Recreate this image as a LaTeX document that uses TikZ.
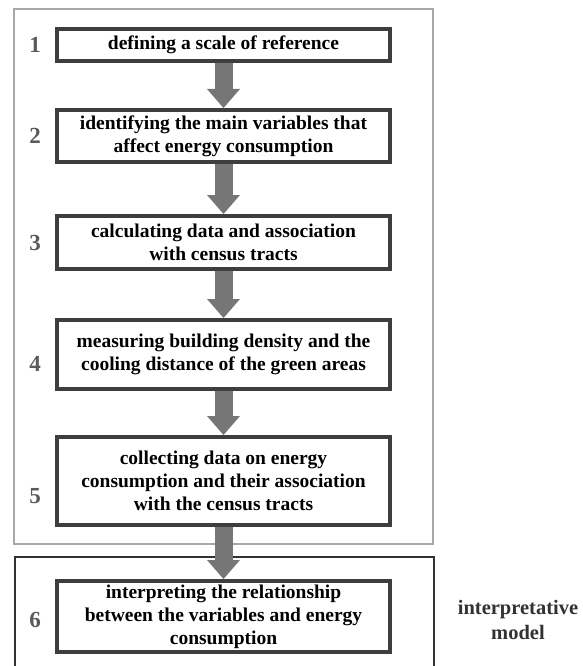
\documentclass[tikz,border=0pt]{standalone}
\usepackage{fontspec}
\setmainfont{Liberation Serif}
\usepackage{tikz}
\usetikzlibrary{positioning,arrows.meta}
\definecolor{boxgray}{RGB}{62,62,62}
\definecolor{framegray}{RGB}{168,168,168}
\definecolor{framedark}{RGB}{50,50,50}
\definecolor{arrowgray}{RGB}{118,118,118}
\definecolor{numgray}{RGB}{90,90,90}

\begin{document}
\begin{tikzpicture}[x=1pt, y=-1pt, node distance=45pt,
	stepbox/.style={draw=boxgray, line width=4pt, fill=white, minimum width=333pt, inner sep=2pt, align=center, font=\fontsize{19.5}{23}\selectfont\bfseries},
	num/.style={inner sep=0pt, text=numgray, font=\fontsize{23}{26}\selectfont\bfseries},
	fatarrow/.style={draw=arrowgray, line width=18pt, -{Triangle[width=33pt, length=19pt, line width=0pt]}}]
				\useasboundingbox (0,0) rectangle (582,666);
				% frames
				\draw[framegray, line width=2pt] (14,9) rectangle (433,544);
				\draw[framedark, line width=2pt] (15,670) -- (15,557) -- (434,557) -- (434,670);
				
				\node[stepbox, minimum height=32pt] (define) at (223.5,45) {defining a scale of reference};
				\node[stepbox, minimum height=52pt, below=45pt of define] (identify) {identifying the main variables that\\affect energy consumption};
				\node[stepbox, minimum height=53pt, below=50pt of identify] (calc) {calculating data and association\\with census tracts};
				\node[stepbox, minimum height=69pt, below=47pt of calc] (measure) {measuring building density and the\\cooling distance of the green areas};
				\node[stepbox, minimum height=88pt, below=44pt of measure] (collect) {collecting data on energy\\consumption and their association\\with the census tracts};
				\node[stepbox, minimum height=71pt, below=52pt of collect] (interpret) {interpreting the relationship\\between the variables and energy\\consumption};
				
				\node[num, left=14pt of define] (n1) {1};
				\node[num, left=14pt of identify] (n2) {2};
				\node[num, left=14pt of calc] (n3) {3};
				\node[num, left=14pt of measure, yshift=-9pt] (n4) {4};
				\node[num, left=14pt of collect, yshift=-15pt] (n5) {5};
				\node[num, left=14pt of interpret, yshift=-3pt] (n6) {6};
				
				\node[align=center, text=framedark, font=\fontsize{20.5}{25}\selectfont\bfseries] (model) at (518,620) {interpretative\\model};
				
				\draw[fatarrow] (define) -- (identify);
				\draw[fatarrow] (identify) -- (calc);
				\draw[fatarrow] (calc) -- (measure);
				\draw[fatarrow] (measure) -- (collect);
				\draw[fatarrow] (collect) -- (interpret);
			\end{tikzpicture}
\end{document}
